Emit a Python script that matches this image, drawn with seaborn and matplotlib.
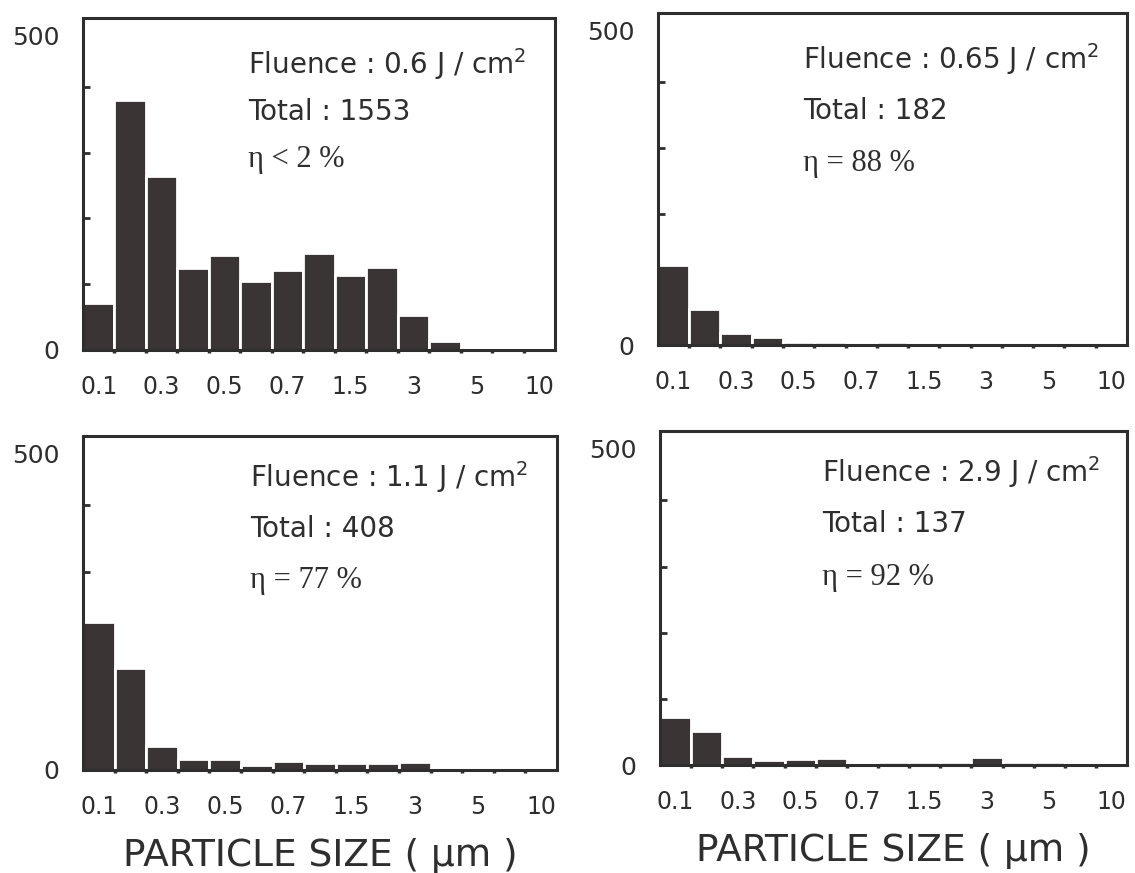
import numpy as np
import matplotlib
matplotlib.use("Agg")
import matplotlib.pyplot as plt
import matplotlib.transforms as mtransforms
from matplotlib.ticker import FixedLocator
import seaborn as sns

# --- data: particle counts per size bin ---
size_bins = ["0.1", "0.2", "0.3", "0.4", "0.5", "0.6", "0.7", "1",
             "1.5", "2", "3", "4", "5", "7", "10"]
shown_labels = ["0.1", "0.3", "0.5", "0.7", "1.5", "3", "5", "10"]

counts_06 = [71, 381, 264, 124, 144, 105, 121, 148, 114, 126, 53, 13, 2, 2, 2]
counts_065 = [122, 55, 19, 12, 5, 4, 1, 5, 1, 1, 1, 1, 1, 1, 1]
counts_11 = [223, 154, 37, 16, 16, 8, 14, 10, 10, 11, 12, 3, 2, 2, 2]
counts_29 = [73, 52, 14, 8, 9, 10, 3, 4, 4, 4, 12, 5, 4, 3, 3]

fluences = ["0.6", "0.65", "1.1", "2.9"]
totals = [1553, 182, 408, 137]
etas = ["\u03b7 < 2 %", "\u03b7 = 88 %", "\u03b7 = 77 %", "\u03b7 = 92 %"]

# --- style ---
sns.set_style("ticks")
plt.rcParams["font.family"] = ["DejaVu Sans"]
bar_color = "#3a3435"
ink = "#2e2e2e"

fig = plt.figure(figsize=(11.35, 8.73), dpi=100)

# axes boxes: [left, bottom, width, height] in figure fraction
boxes = [
    [0.0731, 0.5991, 0.4159, 0.3803],
    [0.5797, 0.6048, 0.4132, 0.3803],
    [0.0731, 0.1180, 0.4176, 0.3826],
    [0.5815, 0.1237, 0.4115, 0.3826],
]
text_x = [0.35, 0.31, 0.353, 0.347]
text_y = [(0.862, 0.718, 0.575), (0.860, 0.704, 0.548),
          (0.878, 0.720, 0.566), (0.878, 0.723, 0.560)]

all_counts = [counts_06, counts_065, counts_11, counts_29]
positions = np.arange(len(size_bins))

# nudge the "500" label a bit below the top spine, as in the original
shift_down = mtransforms.ScaledTranslation(0, -5 / 100, fig.dpi_scale_trans)

for i, (box, counts) in enumerate(zip(boxes, all_counts)):
    ax = fig.add_axes(box)
    sns.barplot(x=positions, y=counts, ax=ax, color=bar_color, saturation=1,
                width=1.0, edgecolor="white", linewidth=2)
    ax.set_xlim(-0.5, len(size_bins) - 0.5)
    ax.set_ylim(0, 505)

    # x ticks: labels under every other bin, small marks at bin edges
    ax.set_xticks(positions[::2])
    ax.set_xticklabels(shown_labels, fontsize=17, color=ink)
    ax.xaxis.set_minor_locator(FixedLocator(positions[:-1] + 0.5))
    ax.tick_params(axis="x", which="major", length=0, pad=18)
    ax.tick_params(axis="x", which="minor", direction="out", length=2.5,
                   width=2.5, color=ink)

    # y ticks: only 0 and 500 labelled, inner marks every 100
    ax.set_yticks([0, 500])
    ax.set_yticklabels(["0", "500"], fontsize=18, color=ink)
    ax.yaxis.set_minor_locator(FixedLocator([100, 200, 300, 400]))
    ax.tick_params(axis="y", which="major", length=0, pad=17)
    ax.tick_params(axis="y", which="minor", direction="in", length=5,
                   width=2, color=ink)
    top_lbl = ax.get_yticklabels()[1]
    top_lbl.set_va("top")
    top_lbl.set_transform(top_lbl.get_transform() + shift_down)

    for sp in ax.spines.values():
        sp.set_visible(True)
        sp.set_linewidth(2.2)
        sp.set_color(ink)

    ax.set_xlabel("")
    ax.set_ylabel("")

    tx = text_x[i]
    ty = text_y[i]
    ax.text(tx, ty[0], "Fluence : " + fluences[i] + " J / cm$^2$",
            transform=ax.transAxes, fontsize=20, color=ink, va="center")
    ax.text(tx, ty[1], "Total : " + str(totals[i]),
            transform=ax.transAxes, fontsize=20, color=ink, va="center")
    ax.text(tx, ty[2], etas[i], transform=ax.transAxes, fontsize=22,
            color=ink, va="center", family=["Liberation Serif", "DejaVu Serif"])

    if i >= 2:
        ax.set_xlabel("PARTICLE SIZE ( \u03bcm )", fontsize=27, color=ink,
                      labelpad=14)

fig.savefig("out.png", dpi=100)
